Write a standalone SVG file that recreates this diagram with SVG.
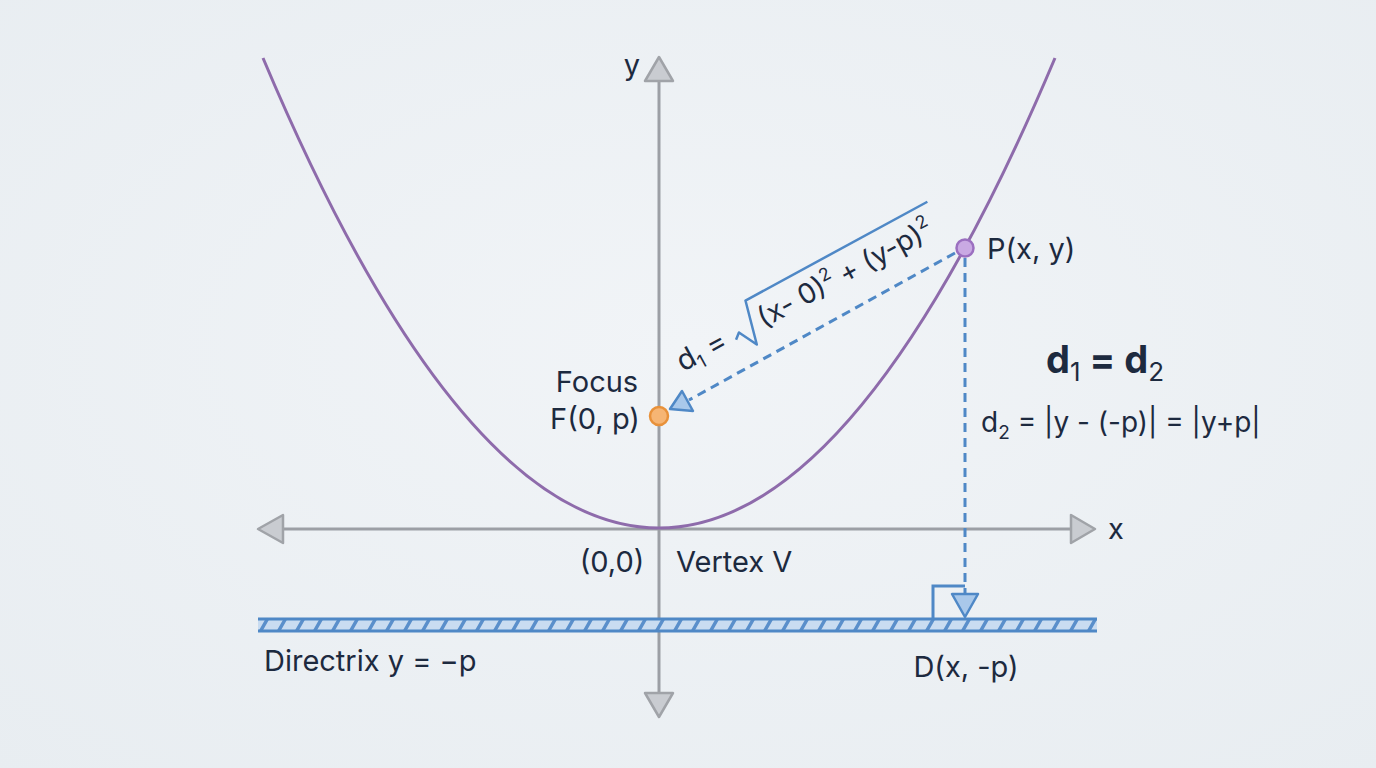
<svg xmlns="http://www.w3.org/2000/svg" width="1376" height="768" viewBox="0 0 1376 768">
<defs>
<radialGradient id="bg" cx="50%" cy="45%" r="75%">
<stop offset="0" stop-color="#f1f4f7"/>
<stop offset="1" stop-color="#e8edf1"/>
</radialGradient>
<pattern id="hatch" width="18" height="14" patternUnits="userSpaceOnUse" patternTransform="translate(258,618)">
<rect width="18" height="14" fill="#c9dcf1"/>
<path d="M2,14 L10,0 M20,14 L28,0 M-16,14 L-8,0" stroke="#5a8fcb" stroke-width="3.5"/>
</pattern>
<style>
.t{font-family:Inter,Roboto,"Liberation Sans",sans-serif;fill:#1d2a3f}
.axis{stroke:#9c9fa5;stroke-width:3;fill:none}
.ahead{fill:#c9ccd1;stroke:#a0a3a8;stroke-width:2.5;stroke-linejoin:round}
.blue{stroke:#4f88c6;stroke-width:3;fill:none}
.dash{stroke:#4f88c6;stroke-width:3;fill:none;stroke-dasharray:9 6}
.bhead{fill:#a9c8ea;stroke:#4f88c6;stroke-width:2.5;stroke-linejoin:round}
</style>
</defs>
<rect width="1376" height="768" fill="url(#bg)"/>

<g id="axes">
<line class="axis" x1="272" y1="529" x2="1082" y2="529"/>
<line class="axis" x1="659" y1="70" x2="659" y2="705"/>
<polygon class="ahead" points="659,57 673,81 645,81"/>
<polygon class="ahead" points="659,717 673,693 645,693"/>
<polygon class="ahead" points="258,529 283,515 283,543"/>
<polygon class="ahead" points="1095,529 1071,515 1071,543"/>
<text class="t" x="632" y="75" font-size="29" text-anchor="middle">y</text>
<text class="t" x="1116" y="539" font-size="29" text-anchor="middle">x</text>
</g>

<g id="directrix">
<rect x="258" y="618" width="839" height="14" fill="url(#hatch)"/>
<line class="blue" x1="258" y1="619" x2="1097" y2="619"/>
<line class="blue" x1="258" y1="631" x2="1097" y2="631"/>
<text class="t" x="264" y="671" font-size="29">Directrix y = −p</text>
</g>

<g id="parabola">
<path d="M263,58 Q659,998 1055,58" stroke="#8e6bab" stroke-width="3" fill="none"/>
</g>

<g id="connectors">
<line class="dash" x1="955" y1="253" x2="689" y2="400"/>
<polygon class="bhead" points="670,409 693,411 682,391"/>
<line class="dash" x1="965" y1="258" x2="965" y2="594"/>
<polygon class="bhead" points="965,617 952,594 978,594"/>
<polyline class="blue" points="933,618 933,586 965,586" stroke-width="2.5"/>
</g>

<g id="d1label" transform="translate(683,372) rotate(-28.5)">
<text class="t" x="0" y="0" font-size="29">d<tspan font-size="18" dy="6">1</tspan><tspan dy="-6"> =</tspan></text>
<path d="M62,-3 L68,-8 L78,11 L89,-33 L296,-33" stroke="#4f88c6" stroke-width="2.5" fill="none" stroke-linejoin="round"/>
<text class="t" x="92" y="0" font-size="28">(x- 0)<tspan font-size="18" dy="-12">2</tspan><tspan dy="12"> + (y-p)</tspan><tspan font-size="18" dy="-12">2</tspan></text>
</g>

<g id="focus">
<circle cx="659" cy="416" r="9" fill="#f6b574" stroke="#e8913a" stroke-width="2.5"/>
<text class="t" x="597" y="392" font-size="29" text-anchor="middle">Focus</text>
<text class="t" x="595" y="429" font-size="29" text-anchor="middle">F(0, p)</text>
</g>

<g id="pointP">
<circle cx="965" cy="248" r="8.5" fill="#c9a9e3" stroke="#9b6fc0" stroke-width="2.5"/>
<text class="t" x="987" y="259" font-size="29">P(x, y)</text>
</g>

<g id="vertex">
<text class="t" x="612" y="572" font-size="29" text-anchor="middle">(0,0)</text>
<text class="t" x="676" y="572" font-size="29">Vertex V</text>
</g>

<g id="pointD">
<text class="t" x="966" y="677" font-size="29" text-anchor="middle">D(x, -p)</text>
</g>

<g id="equations">
<text class="t" x="1046" y="373" font-size="38" font-weight="bold">d<tspan font-size="26" font-weight="normal" dy="8">1</tspan><tspan dy="-8"> = d</tspan><tspan font-size="26" font-weight="normal" dy="8">2</tspan></text>
<text class="t" x="981" y="432" font-size="28">d<tspan font-size="19" dy="7">2</tspan><tspan dy="-7"> = |y - (-p)| = |y+p|</tspan></text>
</g>
</svg>
